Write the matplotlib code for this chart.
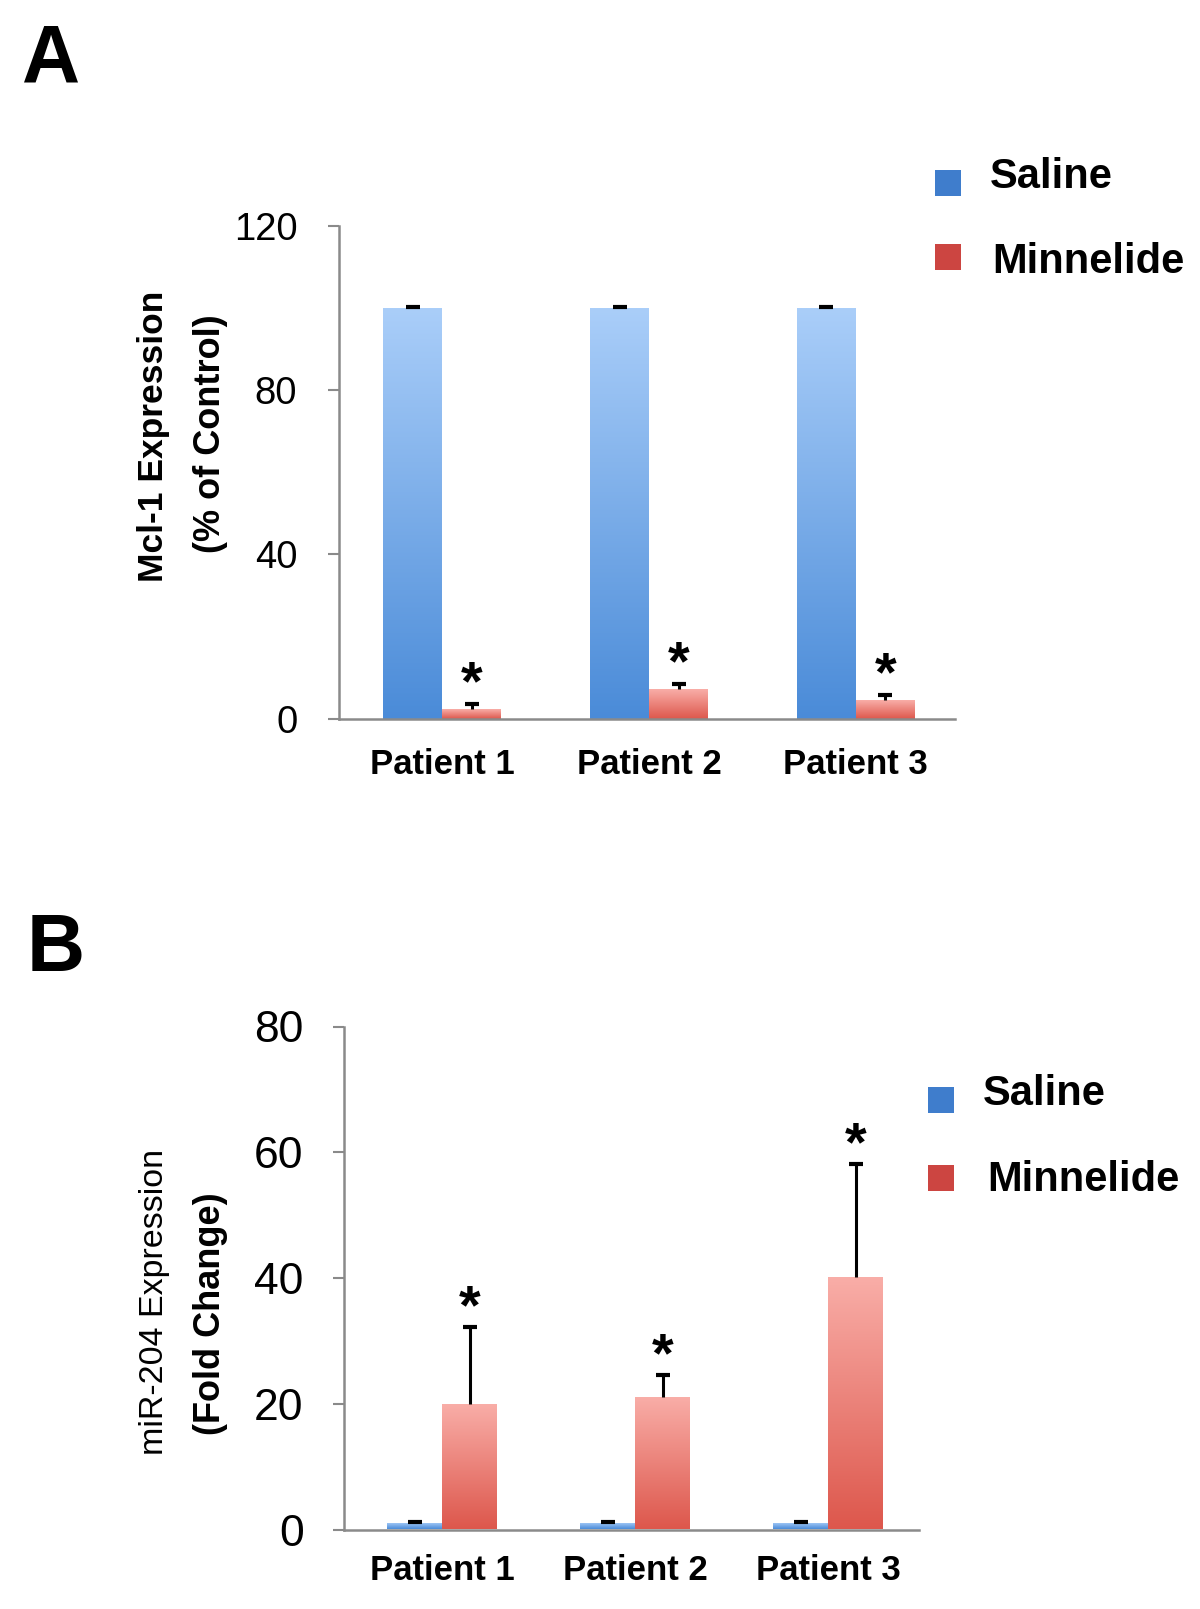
import matplotlib
matplotlib.use('Agg')
import matplotlib.pyplot as plt
import numpy as np
from matplotlib.patches import Rectangle
from matplotlib.colors import LinearSegmentedColormap

plt.rcParams['font.family'] = ['Liberation Sans', 'DejaVu Sans']

patients = ['Patient 1', 'Patient 2', 'Patient 3']
series = ['Saline', 'Minnelide']

# Panel A: Mcl-1 expression (% of control)
a_saline = [100.0, 100.0, 100.0]
a_saline_err = [0.3, 0.3, 0.3]
a_minnelide = [2.4, 7.3, 4.5]
a_minnelide_err = [1.2, 1.2, 1.3]
a_yticks = [0, 40, 80, 120]

# Panel B: miR-204 expression (fold change)
b_saline = [1.0, 1.0, 1.0]
b_saline_err = [0.2, 0.2, 0.2]
b_minnelide = [20.0, 21.1, 40.1]
b_minnelide_err = [12.2, 3.4, 18.0]
b_yticks = [0, 20, 40, 60, 80]

W, H = 1200, 1609
fig = plt.figure(figsize=(W / 100, H / 100), dpi=100)

grad_cols = {'Saline': ('#4a8bd8', '#aacef9'), 'Minnelide': ('#dd574c', '#f9aea8')}
legend_cols = {'Saline': '#3f7dcc', 'Minnelide': '#cc4541'}
GRAY = '#8a8a8a'


def gradient_bars(ax, bars, bottom_color, top_color):
    cmap = LinearSegmentedColormap.from_list('g', [bottom_color, top_color])
    grad = np.linspace(0, 1, 256).reshape(-1, 1)
    for b in bars:
        x0, y0 = b.get_x(), b.get_y()
        w, h = b.get_width(), b.get_height()
        im = ax.imshow(grad, cmap=cmap, extent=[x0, x0 + w, y0, y0 + h],
                       origin='lower', aspect='auto', zorder=2,
                       interpolation='bilinear')
        im.set_clip_path(b)
        b.set_facecolor('none')
        b.set_edgecolor('none')


def panel(rect, saline, saline_err, minn, minn_err, yticks, ylim, xlim,
          tick_fs, tick_pad, xlab_pad, width):
    ax = fig.add_axes(rect)
    x = np.arange(len(patients))
    vals = {'Saline': (saline, saline_err, x - width / 2),
            'Minnelide': (minn, minn_err, x + width / 2)}
    for name in series:
        v, e, xs = vals[name]
        bars = ax.bar(xs, v, width=width, zorder=2)
        gradient_bars(ax, bars, *grad_cols[name])
        _, caps, _ = ax.errorbar(xs, v, yerr=[np.zeros(len(v)), e], fmt='none',
                                 ecolor='black', elinewidth=2.2, capsize=5,
                                 capthick=3, zorder=3)
        if len(caps) == 2:
            caps[0].set_visible(False)
    # significance asterisks above Minnelide bars
    v, e, xs = vals['Minnelide']
    for xi, vi, ei in zip(xs, v, e):
        ax.annotate('*', (xi, vi + ei), xytext=(0, 3), textcoords='offset points',
                    ha='center', va='baseline', fontsize=40, fontweight='bold')
    ax.set_xlim(*xlim)
    ax.set_ylim(*ylim)
    ax.set_yticks(yticks)
    ax.set_xticks(x)
    ax.set_xticklabels(patients, fontsize=25, fontweight='bold')
    ax.tick_params(axis='x', length=0, pad=xlab_pad)
    ax.tick_params(axis='y', length=8, width=1.5, color=GRAY,
                   labelsize=tick_fs, pad=tick_pad, direction='out')
    for s in ['top', 'right']:
        ax.spines[s].set_visible(False)
    for s in ['left', 'bottom']:
        ax.spines[s].set_color(GRAY)
        ax.spines[s].set_linewidth(1.8)
    return ax


def fx(px):
    return px / W


def fy(py):
    return 1 - py / H


axA = panel([fx(339), fy(718.6), fx(955) - fx(339), fy(225.8) - fy(718.6)],
            a_saline, a_saline_err, a_minnelide, a_minnelide_err,
            a_yticks, (0, 120), (-0.5, 2.48), 27.5, 22, 21, 0.285)

axB = panel([fx(344), fy(1529.5), fx(919) - fx(344), fy(1026.5) - fy(1529.5)],
            b_saline, b_saline_err, b_minnelide, b_minnelide_err,
            b_yticks, (0, 80), (-0.51, 2.47), 32, 21, 18, 0.285)

# y labels
fig.text(fx(154), fy(436), 'Mcl-1 Expression', rotation=90, ha='center',
         va='center', fontsize=25.5, fontweight='bold')
fig.text(fx(210), fy(434), '(% of Control)', rotation=90, ha='center',
         va='center', fontsize=26, fontweight='bold')
fig.text(fx(154), fy(1302), 'miR-204 Expression', rotation=90, ha='center',
         va='center', fontsize=24.5)
fig.text(fx(210), fy(1314), '(Fold Change)', rotation=90, ha='center',
         va='center', fontsize=26, fontweight='bold')

# panel letters
fig.text(fx(22), fy(82), 'A', fontsize=58, fontweight='bold', va='baseline')
fig.text(fx(27), fy(971), 'B', fontsize=58, fontweight='bold', va='baseline')

# legends
def legend(sq_x, sq_ys, txt_xs, base_ys):
    s = 26
    for name, sy, tx, by in zip(series, sq_ys, txt_xs, base_ys):
        fig.patches.append(Rectangle((fx(sq_x - s / 2), fy(sy + s / 2)),
                                     s / W, s / H, transform=fig.transFigure,
                                     facecolor=legend_cols[name],
                                     edgecolor='none'))
        fig.text(fx(tx), fy(by), name, fontsize=30, fontweight='bold',
                 va='baseline', ha='left')

legend(948, [183, 257], [990, 992], [188, 273])
legend(941, [1100, 1178], [983, 987], [1105, 1191])

fig.savefig('out.png', dpi=100)
